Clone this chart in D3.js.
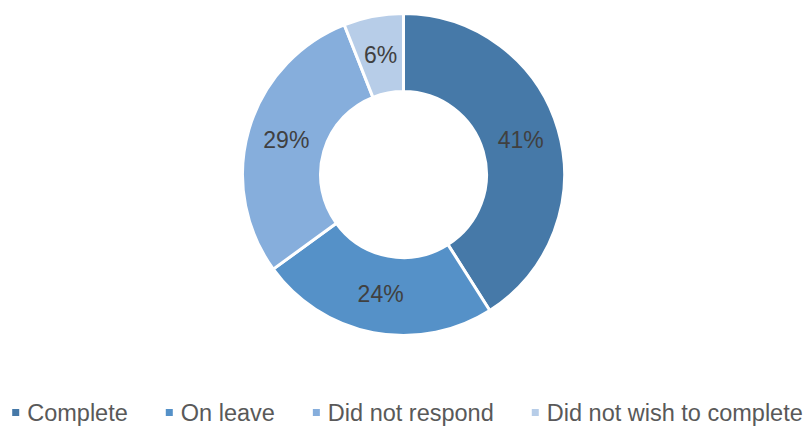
<!DOCTYPE html>
<html>
<head>
<meta charset="utf-8">
<script src="https://cdn.jsdelivr.net/npm/d3@7"></script>
<style>
  html, body { margin: 0; padding: 0; background: #fff; }
  svg { display: block; }
  text { font-family: "Liberation Sans", Arial, sans-serif; }
</style>
</head>
<body>
<svg id="chart" width="805" height="427"></svg>
<script>
// Survey status breakdown (percent of respondents)
const categories = ["Complete", "On leave", "Did not respond", "Did not wish to complete"];
const values = [41, 24, 29, 6];
const colors = ["#4679A8", "#5591C8", "#86AEDC", "#B7CDE8"];

const width = 805, height = 427;
const cx = 403.5, cy = 174.5;
const outerR = 161, innerR = 83;

const svg = d3.select("#chart");
const data = categories.map((c, i) => ({ name: c, value: values[i], color: colors[i] }));

const pie = d3.pie().value(d => d.value).sort(null);
const arc = d3.arc().innerRadius(innerR).outerRadius(outerR);
const labelArc = d3.arc().innerRadius((innerR + outerR) / 2).outerRadius((innerR + outerR) / 2);

const g = svg.append("g").attr("transform", `translate(${cx},${cy})`);
const arcs = pie(data);

g.selectAll("path.slice")
  .data(arcs)
  .join("path")
  .attr("class", "slice")
  .attr("d", arc)
  .attr("fill", d => d.data.color)
  .attr("stroke", "#ffffff")
  .attr("stroke-width", 3)
  .attr("stroke-linejoin", "round");

g.selectAll("text.val")
  .data(arcs)
  .join("text")
  .attr("class", "val")
  .attr("transform", d => { const [x, y] = labelArc.centroid(d); return `translate(${x},${y + 8})`; })
  .attr("text-anchor", "middle")
  .attr("font-size", 23)
  .attr("fill", "#404040")
  .text(d => d.data.value + "%");

// Legend: square swatch + label, laid out in a single centred row
const legend = svg.append("g");
const items = legend.selectAll("g.item").data(data).join("g").attr("class", "item");
items.append("rect")
  .attr("width", 7).attr("height", 7)
  .attr("y", -12)
  .attr("fill", d => d.color);
items.append("text")
  .attr("x", 15)
  .attr("font-size", 23.5)
  .attr("fill", "#595959")
  .text(d => d.name);

let x = 0;
const gap = 38;
items.each(function () {
  const t = d3.select(this).select("text").node();
  d3.select(this).attr("transform", `translate(${x},0)`);
  x += 15 + t.getComputedTextLength() + gap;
});
const total = x - gap;
legend.attr("transform", `translate(${(width - total) / 2 + 5},421)`);
</script>
</body>
</html>
